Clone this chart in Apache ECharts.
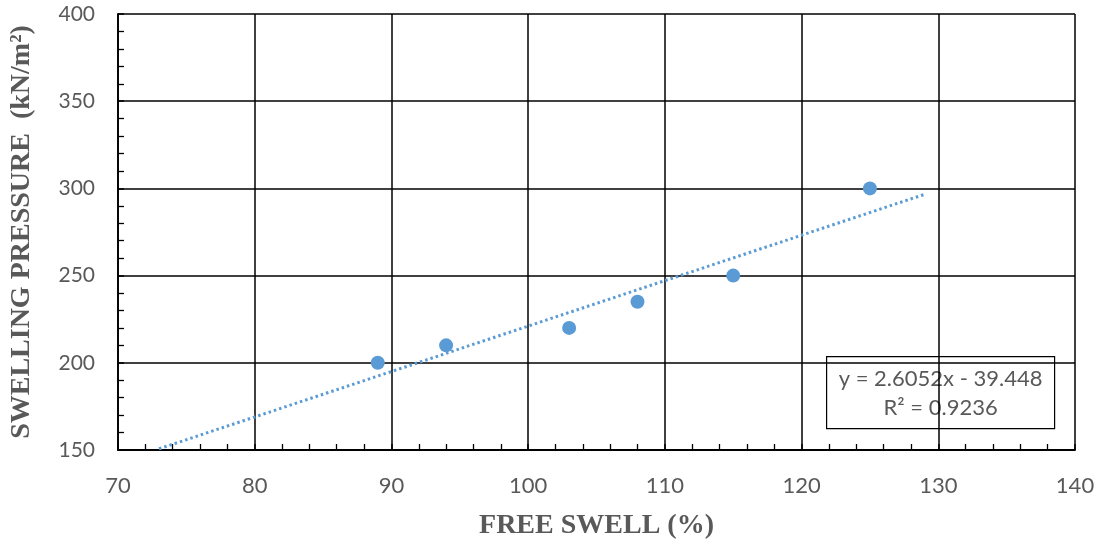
<!DOCTYPE html>
<html><head><meta charset="utf-8">
<script src="https://cdn.jsdelivr.net/npm/echarts@6/dist/echarts.min.js"></script>
<style>html,body{margin:0;padding:0;background:#fff}#c{width:1100px;height:545px}</style>
</head><body><div id="c"></div>
<script>
const freeSwell = [89, 94, 103, 108, 115, 125];
const swellingPressure = [200, 210, 220, 235, 250, 300];
const trendX = [73, 129];
const trendY = [150.7, 296.6];
const xTitle = 'FREE SWELL (%)';
const yTitle = 'SWELLING PRESSURE  (kN/m\u00B2)';
const eqLines = ['y = 2.6052x - 39.448', 'R\u00B2 = 0.9236'];

const chart = echarts.init(document.getElementById('c'));
const blue = '#5B9BD5';
const gray = '#595959';
const sans = 'Lato';
chart.setOption({
  animation: false,
  grid: {left: 114, right: 25, top: 14, bottom: 91},
  xAxis: {
    type: 'value', min: 70, max: 140, interval: 10,
    name: xTitle, nameLocation: 'middle', nameGap: 62,
    nameTextStyle: {fontFamily: 'Liberation Serif', fontWeight: 'bold', fontSize: 28, color: gray},
    axisLine: {lineStyle: {color: '#000', width: 1.8}},
    axisTick: {show: true, inside: true, length: 6, lineStyle: {color: '#000', width: 1.5}},
    minorTick: {show: true, splitNumber: 5, length: 6, lineStyle: {color: '#000', width: 1.3}},
    axisLabel: {color: gray, fontSize: 22, fontFamily: sans, margin: 25},
    splitLine: {show: true, lineStyle: {color: '#000', width: 1.5}}
  },
  yAxis: {
    type: 'value', min: 150, max: 400, interval: 50,
    name: yTitle, nameLocation: 'middle', nameGap: 82,
    nameTextStyle: {fontFamily: 'Liberation Serif', fontWeight: 'bold', fontSize: 28, color: gray},
    axisLine: {show: true, lineStyle: {color: '#000', width: 1.8}},
    axisTick: {show: true, inside: true, length: 6, lineStyle: {color: '#000', width: 1.5}},
    minorTick: {show: true, splitNumber: 5, length: 6, lineStyle: {color: '#000', width: 1.3}},
    axisLabel: {color: gray, fontSize: 21, fontFamily: sans, margin: 23},
    splitLine: {show: true, lineStyle: {color: '#000', width: 1.5}}
  },
  series: [
    {
      type: 'line', data: trendX.map((x, i) => [x, trendY[i]]),
      showSymbol: false, symbol: 'none', clip: true,
      lineStyle: {color: blue, width: 3, type: [2.5, 3]}, z: 3
    },
    {
      type: 'scatter', data: freeSwell.map((x, i) => [x, swellingPressure[i]]),
      symbolSize: 14, itemStyle: {color: blue, opacity: 1}, z: 4
    }
  ],
  graphic: [{
    type: 'group', left: 826, top: 356, z: 10,
    children: [
      {type: 'rect', shape: {x: 0, y: 0, width: 228, height: 72},
       style: {fill: '#fff', stroke: '#000', lineWidth: 1.2}},
      {type: 'text', x: 114, y: 37,
       style: {text: eqLines.join('\n'), fill: gray, fontSize: 22, fontFamily: sans,
               align: 'center', verticalAlign: 'middle', lineHeight: 29}}
    ]
  }]
});
</script></body></html>
